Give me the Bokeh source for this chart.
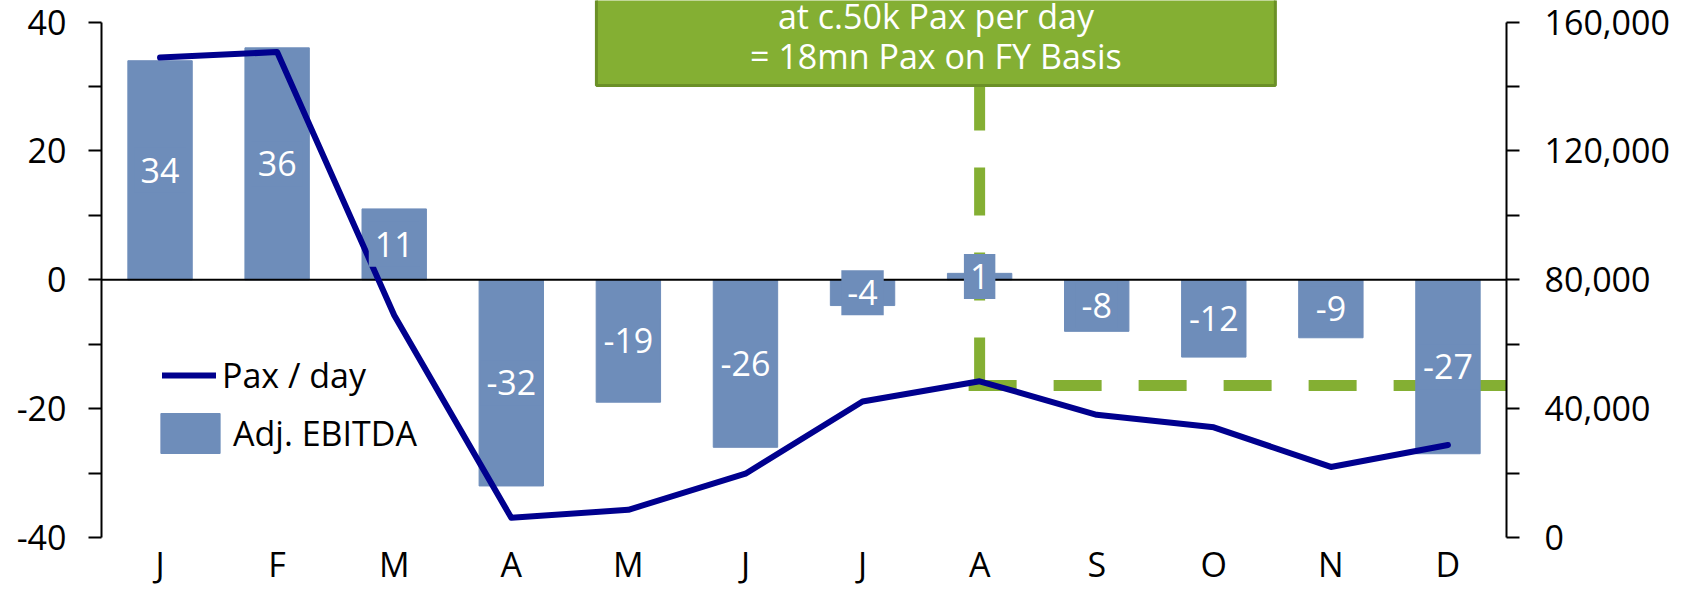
from bokeh.plotting import figure
from bokeh.models import (Range1d, LinearAxis, FixedTicker, Legend, LegendItem,
                          BoxAnnotation)
from bokeh.core.properties import value
from bokeh.embed import file_html
from bokeh.resources import INLINE

# --- data -------------------------------------------------------------------
months = ["J", "F", "M", "A", "M", "J", "J", "A", "S", "O", "N", "D"]
adj_ebitda = [34, 36, 11, -32, -19, -26, -4, 1, -8, -12, -9, -27]
pax_per_day = [149000, 150700, 69000, 6100, 8600, 19800,
               42200, 48500, 38100, 34200, 21900, 28700]

ebitda_ticks = [-40, -30, -20, -10, 0, 10, 20, 30, 40]
ebitda_tick_labels = ["-40", "", "-20", "", "0", "", "20", "", "40"]
pax_ticks = [0, 20000, 40000, 60000, 80000, 100000, 120000, 140000, 160000]
pax_tick_labels = ["0", "", "40,000", "", "80,000", "", "120,000", "", "160,000"]

breakeven_pax = 47200          # c.50k pax per day
breakeven_month = 7            # index of August
callout_lines = ["at c.50k Pax per day", "= 18mn Pax on FY Basis"]

# --- styling ----------------------------------------------------------------
FONT = "Open Sans"
FS = "34px"
BAR = "#6E8DBA"
NAVY = "#00008E"
GREEN = "#84AF33"
GREEN_DARK = "#6B9027"

PAX_PER_UNIT = 2000            # 1 EBITDA unit on the left = 2,000 pax on the right
Y_TOP = 43.35                  # leaves room above the 40 tick for the callout

def to_pax(v):
    return (v + 40) * PAX_PER_UNIT

centers = [i + 0.5 for i in range(len(months))]

p = figure(width=1690, height=590, output_backend="svg", toolbar_location=None,
           x_range=Range1d(0, len(months)), y_range=Range1d(-40, Y_TOP),
           min_border_left=101, min_border_right=184, min_border_top=0,
           min_border_bottom=53)
p.extra_y_ranges = {"pax": Range1d(0, to_pax(Y_TOP))}
p.outline_line_color = None
p.grid.visible = False
p.background_fill_color = "white"
p.border_fill_color = "white"

# month axis (labels only)
xa = p.xaxis[0]
xa.ticker = FixedTicker(ticks=centers)
xa.major_label_overrides = {c: m for c, m in zip(centers, months)}
xa.axis_line_color = None
xa.major_tick_line_color = None
xa.minor_tick_line_color = None
xa.major_tick_out = 0
xa.major_tick_in = 0
xa.minor_tick_out = 0
xa.minor_tick_in = 0
xa.major_label_standoff = 3
xa.major_label_text_font = FONT
xa.major_label_text_font_size = FS
xa.major_label_text_color = "black"

# left EBITDA axis
ya = p.yaxis[0]
ya.ticker = FixedTicker(ticks=ebitda_ticks)
ya.major_label_overrides = dict(zip(ebitda_ticks, ebitda_tick_labels))
ya.bounds = (-40, 40)

# right pax axis
yr = LinearAxis(y_range_name="pax", ticker=FixedTicker(ticks=pax_ticks),
                major_label_overrides=dict(zip(pax_ticks, pax_tick_labels)),
                bounds=(0, 160000))
p.add_layout(yr, "right")

for ax in (ya, yr):
    ax.axis_line_color = "black"
    ax.axis_line_width = 2
    ax.major_tick_line_color = "black"
    ax.major_tick_line_width = 2
    ax.major_tick_out = 13
    ax.major_tick_in = 0
    ax.minor_tick_line_color = None
    ax.major_label_text_font = FONT
    ax.major_label_text_font_size = FS
    ax.major_label_text_color = "black"
ya.major_label_standoff = 22
yr.major_label_standoff = 25

# break-even guide: elbow from the callout down to August, then across
bx = breakeven_month + 0.5
callout_bottom = 30.16
p.line(x=[bx, bx], y=[to_pax(callout_bottom), breakeven_pax], y_range_name="pax",
       line_color=GREEN, line_width=11, line_dash="48 37", line_dash_offset=3)
p.line(x=[bx - 0.094, len(months) + 0.16], y=[breakeven_pax, breakeven_pax],
       y_range_name="pax", line_color=GREEN, line_width=11, line_dash="48 37")
p.add_layout(BoxAnnotation(left=len(months), right=len(months) + 0.155,
                           bottom=breakeven_pax / PAX_PER_UNIT - 40 - 0.85,
                           top=breakeven_pax / PAX_PER_UNIT - 40 + 0.85,
                           fill_color=GREEN, fill_alpha=1, line_color=None,
                           level="underlay"))

# EBITDA bars
bars = p.vbar(x=centers, top=adj_ebitda, bottom=0, width=0.55,
              fill_color=BAR, line_color=BAR)

# zero line across the frame
p.segment(x0=[0], x1=[len(months)], y0=[0], y1=[0], line_color="black", line_width=2)

# pax per day line
pax_line = p.line(x=centers, y=pax_per_day, y_range_name="pax", line_color=NAVY,
                  line_width=6, line_join="round", line_cap="round")

# value labels centred in each bar, on a bar-coloured tag
p.text(x=centers, y=[v / 2 for v in adj_ebitda], text=[str(v) for v in adj_ebitda],
       text_color="white", text_font=value(FONT), text_font_size=FS,
       text_align="center", text_baseline="middle",
       background_fill_color=BAR, padding=(6, 10))

# callout box
p.quad(left=[4.227], right=[10.026], bottom=[callout_bottom], top=[60],
       fill_color=GREEN, line_color=GREEN_DARK, line_width=3)
p.text(x=[7.127, 7.127], y=[40.87, 34.66], text=callout_lines,
       text_color="white", text_font=value(FONT), text_font_size=FS,
       text_align="center", text_baseline="middle")

# legends
common = dict(background_fill_alpha=0, border_line_color=None, padding=0, margin=0,
              label_text_font=FONT, label_text_font_size=FS, label_text_color="black",
              label_standoff=6, spacing=0)
leg_line = Legend(items=[LegendItem(label="Pax / day", renderers=[pax_line])],
                  location=(61, 139), glyph_width=54, glyph_height=46, **common)
leg_bar = Legend(items=[LegendItem(label="Adj. EBITDA", renderers=[bars])],
                 location=(52, 79), glyph_width=74, glyph_height=50, **common)
p.add_layout(leg_line, "center")
p.add_layout(leg_bar, "center")

open("out.html", "w").write(file_html(p, INLINE))
